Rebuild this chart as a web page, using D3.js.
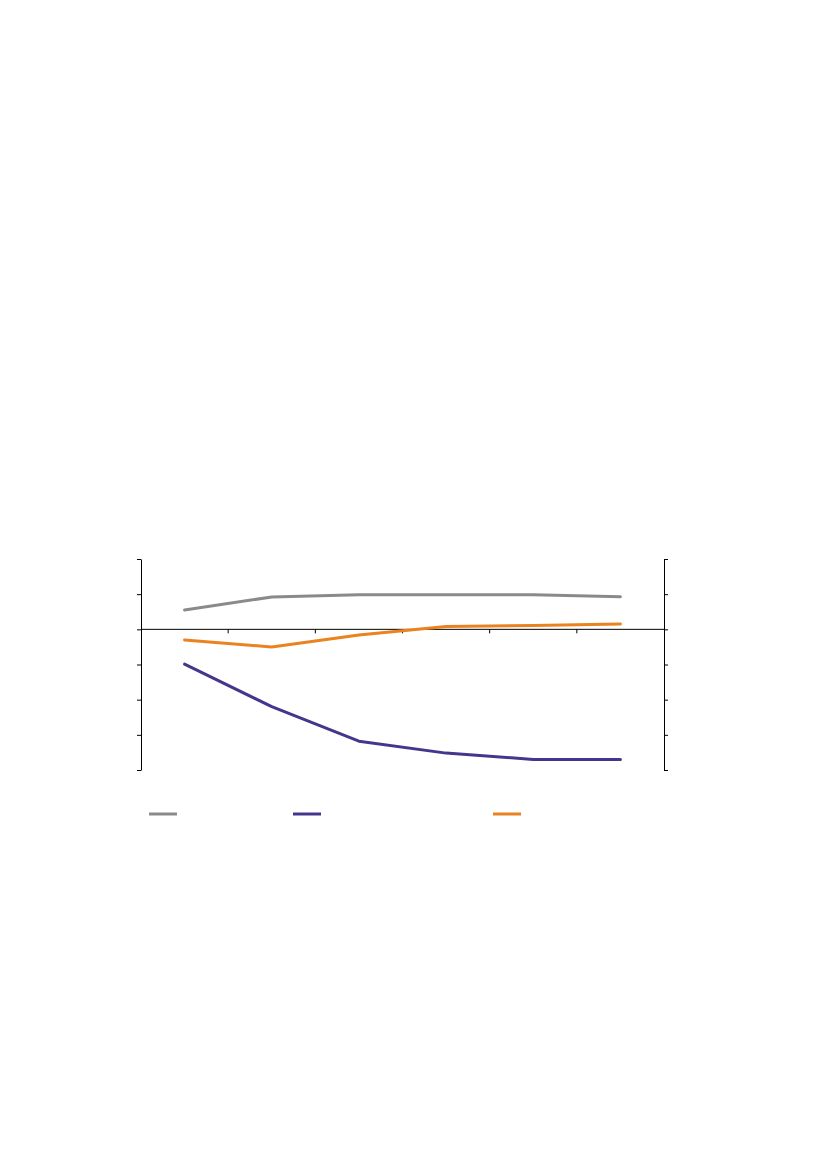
<!DOCTYPE html>
<html>
<head>
<meta charset="utf-8">
<script src="https://cdn.jsdelivr.net/npm/d3@7"></script>
<style>
  html, body { margin: 0; padding: 0; background: #fff; }
  svg { display: block; }
</style>
</head>
<body>
<div id="chart"></div>
<script>
// Data (no visible labels in the reference)
const categories = ["c1", "c2", "c3", "c4", "c5", "c6"];
const seriesNames = ["grey", "purple", "orange"];
const greyValues = [0.55, 0.92, 0.98, 0.98, 0.98, 0.93];
const purpleValues = [-0.99, -2.20, -3.18, -3.52, -3.70, -3.70];
const orangeValues = [-0.30, -0.50, -0.16, 0.08, 0.11, 0.15];
const yTicks = [-4, -3, -2, -1, 0, 1, 2];

const colors = ["#8a8a8a", "#47358d", "#ea831f"];
const series = [greyValues, purpleValues, orangeValues];

const width = 827, height = 1169;
const plotLeft = 141, plotRight = 664, plotTop = 559, plotBottom = 770;

const svg = d3.select("#chart").append("svg")
    .attr("width", width)
    .attr("height", height);

const x = d3.scaleBand().domain(categories).range([plotLeft, plotRight]);
const y = d3.scaleLinear().domain([-4, 2]).range([plotBottom, plotTop]);

// left & right axes
svg.append("g")
    .attr("transform", `translate(${plotLeft},0)`)
    .call(d3.axisLeft(y).tickValues(yTicks).tickFormat("").tickSize(4).tickSizeOuter(0));

svg.append("g")
    .attr("transform", `translate(${plotRight},0)`)
    .call(d3.axisRight(y).tickValues(yTicks).tickFormat("").tickSize(4).tickSizeOuter(0));

// category axis on zero line, ticks between categories
const boundaries = categories.slice(1).map(c => x(c));
const xAxis = svg.append("g").attr("transform", `translate(0,${y(0)})`);
xAxis.append("line")
    .attr("x1", plotLeft).attr("x2", plotRight)
    .attr("stroke", "#000").attr("stroke-width", 1);
xAxis.selectAll(".xt").data(boundaries).enter().append("line")
    .attr("class", "xt")
    .attr("x1", d => d).attr("x2", d => d)
    .attr("y1", 0).attr("y2", 4)
    .attr("stroke", "#000").attr("stroke-width", 1);

svg.selectAll(".domain, .tick line").attr("stroke", "#000");

const line = d3.line()
    .x((d, i) => x(categories[i]) + x.bandwidth() / 2)
    .y(d => y(d));

series.forEach((vals, i) => {
    svg.append("path")
        .datum(vals)
        .attr("d", line)
        .attr("fill", "none")
        .attr("stroke", colors[i])
        .attr("stroke-width", 3)
        .attr("stroke-linejoin", "round")
        .attr("stroke-linecap", "round");
});

// legend swatches (no text in the reference)
const legendX = [149, 293, 493];
const legendY = 814;
svg.selectAll(".leg").data(seriesNames).enter().append("line")
    .attr("class", "leg")
    .attr("x1", (d, i) => legendX[i])
    .attr("x2", (d, i) => legendX[i] + 28)
    .attr("y1", legendY).attr("y2", legendY)
    .attr("stroke", (d, i) => colors[i])
    .attr("stroke-width", 3);
</script>
</body>
</html>
